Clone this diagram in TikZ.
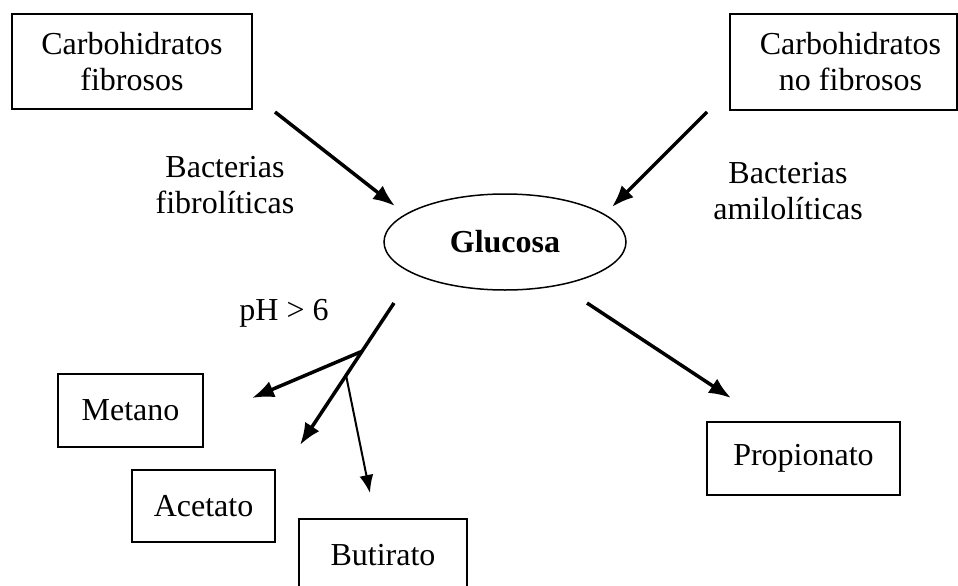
\documentclass[tikz,border=0pt]{standalone}
\usepackage{fontspec}
\setmainfont{Liberation Serif}
\usetikzlibrary{calc,shapes.geometric,arrows.meta}

\begin{document}
\begin{tikzpicture}[x=1pt,y=-1pt,
    every node/.style={font=\fontsize{32}{36}\selectfont},
    box/.style={draw,line width=2pt,inner sep=0pt,align=center},
    flow/.style={-{Latex[length=22pt,width=17pt]},line width=3.5pt},
    thinflow/.style={-{Latex[length=18pt,width=14pt]},line width=2pt}]
  \useasboundingbox (0,0) rectangle (958,586);

  % sources
  \node[box,minimum width=240pt,minimum height=95pt] (fib) at (132,61.5) {Carbohidratos\\fibrosos};
  \node[box,minimum width=227pt,minimum height=96pt] (nofib) at (843.5,62) {\hspace*{14pt}Carbohidratos\\\hspace*{14pt}no fibrosos};
  \node[align=center] (bfib) at (225,185) {Bacterias\\fibrolíticas};
  \node[align=center] (bami) at (788,191) {Bacterias\\amilolíticas};

  \node[draw,ellipse,line width=1.5pt,inner sep=0pt,minimum width=242pt,minimum height=96pt] (glu) at (505,242) {\bfseries Glucosa};

  \node (ph) at (284,313) {pH > 6};

  % products
  \node[box,minimum width=145pt,minimum height=73pt] (met) at (130.5,410.5) {Metano};
  \node[box,minimum width=143pt,minimum height=72pt] (ace) at (203.5,506) {Acetato};
  \node[box,minimum width=168pt,minimum height=72pt] (but) at (383,555) {Butirato};
  \node[box,minimum width=193pt,minimum height=73pt] (pro) at (803.5,458.5) {Propionato};

  \coordinate (a1) at (275,112);
  \coordinate (a2) at (395,206);
  \coordinate (b1) at (707,112);
  \coordinate (b2) at (612,207);
  \coordinate (c1) at (587,303);
  \coordinate (c2) at (731,398);
  \coordinate (d1) at (394,303);
  \coordinate (d2) at (300,445);
  \coordinate (j1) at ($(d1)!0.34!(d2)$);
  \coordinate (j2) at ($(d1)!0.51!(d2)$);
  \coordinate (m2) at (252,398);
  \coordinate (u2) at (370,493);

  \draw[flow] (a1) -- (a2);
  \draw[flow] (b1) -- (b2);
  \draw[flow] (c1) -- (c2);
  \draw[flow] (d1) -- (d2);
  \draw[flow] (j1) -- (m2);
  \draw[thinflow] (j2) -- (u2);
\end{tikzpicture}
\end{document}
